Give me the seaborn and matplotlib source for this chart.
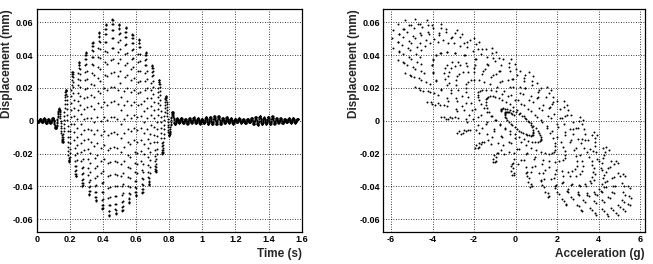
import numpy as np
import pandas as pd
import matplotlib
matplotlib.use("Agg")
import matplotlib.pyplot as plt
from matplotlib.ticker import MultipleLocator, FixedLocator
import seaborn as sns

# Note: the extrema below are read off the picture; the ~1 kHz samples between
# them are filled with a half-cosine (too many dots to digitise one by one).

# small wiggle before the burst (s, mm)
pre_t = [0.008, 0.02, 0.032, 0.045, 0.058, 0.07, 0.083, 0.097]
pre_v = [-0.0008, 0.0012, -0.001, 0.0015, -0.0015, 0.001, -0.0012, 0.0018]

# extrema of the burst (s, mm)
top_peak_t = [0.1355, 0.176, 0.216, 0.256, 0.296, 0.337, 0.377, 0.417,
              0.457, 0.497, 0.538, 0.578, 0.618, 0.658, 0.698, 0.739, 0.779, 0.819]
top_peak_v = [0.0075, 0.019, 0.030, 0.036, 0.042, 0.048, 0.054, 0.059,
              0.062, 0.059, 0.057, 0.053, 0.050, 0.042, 0.034, 0.025, 0.015, 0.0055]
bot_peak_t = [0.115, 0.156, 0.196, 0.236, 0.276, 0.317, 0.357, 0.397, 0.437,
              0.477, 0.518, 0.558, 0.598, 0.638, 0.678, 0.718, 0.759, 0.799]
bot_peak_v = [-0.0047, -0.013, -0.025, -0.034, -0.040, -0.045, -0.049, -0.054,
              -0.058, -0.057, -0.055, -0.050, -0.046, -0.044, -0.039, -0.031, -0.020, -0.009]

# ringing after the burst (s, mm)
tail_t = [0.835, 0.8475, 0.86, 0.8725, 0.885, 0.8975, 0.91, 0.9225, 0.935, 0.9475,
          0.96, 0.9725, 0.985, 0.9975, 1.01, 1.0225, 1.035, 1.0475, 1.06, 1.0725,
          1.085, 1.0975, 1.11, 1.1225, 1.135, 1.1475, 1.16, 1.1725, 1.185, 1.1975,
          1.21, 1.2225, 1.235, 1.2475, 1.26, 1.2725, 1.285, 1.2975, 1.31, 1.3225,
          1.335, 1.3475, 1.36, 1.3725, 1.385, 1.3975, 1.41, 1.4225, 1.435, 1.4475,
          1.46, 1.4725, 1.485, 1.4975, 1.51, 1.5225, 1.535, 1.5475, 1.56, 1.5725]
tail_v = [-0.0022, 0.0015, -0.0012, 0.0018, -0.0015, 0.0012, -0.0018, 0.0015, -0.0012, 0.0020,
          -0.0015, 0.0015, -0.0018, 0.0012, -0.0015, 0.0022, -0.0020, 0.0025, -0.0022, 0.0028,
          -0.0020, 0.0030, -0.0022, 0.0018, -0.0015, 0.0022, -0.0012, 0.0015, -0.0018, 0.0012,
          -0.0010, 0.0015, -0.0012, 0.0010, -0.0015, 0.0012, -0.0010, 0.0018, -0.0020, 0.0025,
          -0.0025, 0.0030, -0.0022, 0.0020, -0.0018, 0.0025, -0.0022, 0.0028, -0.0018, 0.0015,
          -0.0012, 0.0015, -0.0015, 0.0012, -0.0010, 0.0015, -0.0012, 0.0018, -0.0012, 0.0010]

sample_dt = 0.001        # s
accel_gain = 96.0
accel_lag = 4            # samples, gives the width of the band
burst_window = (0.13, 0.825)

time_ticks = [0, 0.2, 0.4, 0.6, 0.8, 1, 1.2, 1.4, 1.6]
disp_ticks = [-0.06, -0.04, -0.02, 0, 0.02, 0.04, 0.06]
acc_ticks = [-6, -4, -2, 0, 2, 4, 6]


def trace():
    ext = sorted(zip(pre_t + top_peak_t + bot_peak_t + tail_t,
                     pre_v + top_peak_v + bot_peak_v + tail_v))
    et = np.array([0.0] + [e[0] for e in ext] + [1.6])
    ev = np.array([0.0] + [e[1] for e in ext] + [0.0])
    t = np.arange(0, 1.58, sample_dt)
    i = np.clip(np.searchsorted(et, t, side="right") - 1, 0, len(et) - 2)
    frac = (t - et[i]) / (et[i + 1] - et[i])
    mid = (ev[i] + ev[i + 1]) / 2
    half = (ev[i] - ev[i + 1]) / 2
    return t, mid + half * np.cos(np.pi * frac)


def style_axes(ax, xticks, xlabels, xminor, xlabel):
    ax.set_ylim(-0.0677, 0.068)
    ax.xaxis.set_major_locator(FixedLocator(xticks))
    ax.set_xticklabels(xlabels)
    ax.xaxis.set_minor_locator(MultipleLocator(xminor))
    ax.yaxis.set_major_locator(FixedLocator(disp_ticks))
    ax.set_yticklabels([("%g" % v) for v in disp_ticks])
    ax.yaxis.set_minor_locator(MultipleLocator(0.005))
    ax.tick_params(which="both", direction="in", top=False, right=False,
                   labelsize=6.5, pad=2.5, colors="black")
    ax.tick_params(which="major", length=4.3, width=0.8)
    ax.tick_params(which="minor", length=2.3, width=0.8)
    for lab in ax.get_xticklabels() + ax.get_yticklabels():
        lab.set_fontweight("bold")
    ax.grid(True, which="major", linestyle=(0, (1, 2)), color="black", linewidth=0.6)
    for s in ax.spines.values():
        s.set_linewidth(0.9)
        s.set_color("black")
    ax.set_xlabel(xlabel, fontsize=8.5, fontweight="bold", loc="right", labelpad=3)
    ax.set_ylabel("Displacement (mm)", fontsize=8.5, fontweight="bold", loc="top")
    ax.yaxis.set_label_coords(-0.09, 1.0)


def main():
    sns.set_style("white")
    plt.rcParams["font.family"] = ["Liberation Sans", "DejaVu Sans"]

    t, disp = trace()
    acc = -accel_gain * np.roll(disp, -accel_lag)
    df = pd.DataFrame({"time": t, "disp": disp, "acc": acc})
    burst = df[(df["time"] > burst_window[0]) & (df["time"] < burst_window[1])]

    fig = plt.figure(figsize=(6.53, 2.64), dpi=100)
    ax1 = fig.add_axes([0.0562, 0.1223, 0.4058, 0.8425])
    ax2 = fig.add_axes([0.587, 0.1223, 0.4008, 0.8425])

    sns.scatterplot(data=df, x="time", y="disp", ax=ax1, s=2, color="black",
                    linewidth=0, marker="o")
    ax1.set_xlim(0, 1.6)
    style_axes(ax1, time_ticks, [("%g" % v) for v in time_ticks], 0.05, "Time (s)")

    sns.scatterplot(data=burst, x="acc", y="disp", ax=ax2, s=2, color="black",
                    linewidth=0, marker="o")
    ax2.set_xlim(-6.37, 6.24)
    style_axes(ax2, acc_ticks, [str(v) for v in acc_ticks], 0.5, "Acceleration (g)")

    fig.savefig("out.png", dpi=100)


if __name__ == "__main__":
    main()
